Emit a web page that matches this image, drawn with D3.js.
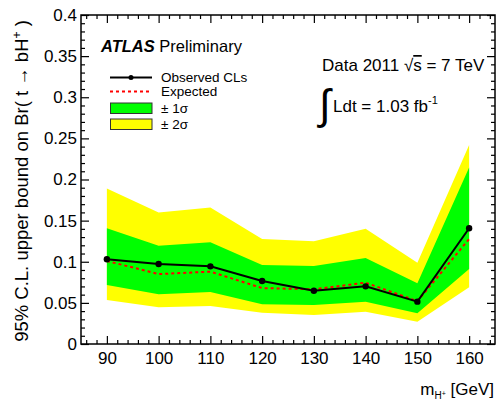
<!DOCTYPE html>
<html>
<head>
<meta charset="utf-8">
<script src="https://cdn.jsdelivr.net/npm/d3@7"></script>
<style>
  body { margin: 0; background: #fff; }
  text { font-family: "Liberation Sans", Arial, sans-serif; fill: #000; }
</style>
</head>
<body>
<svg id="chart"></svg>
<script>
// Charged Higgs mass points (GeV)
const masses = [90, 100, 110, 120, 130, 140, 150, 160];
// 95% CL upper limits on Br(t -> bH+)
const observed = [0.103, 0.0973, 0.0944, 0.0766, 0.0648, 0.0701, 0.0515, 0.1407];
const expected = [0.101, 0.085, 0.088, 0.068, 0.0665, 0.0746, 0.052, 0.1277];
const sigma1Lo = [0.0717, 0.0604, 0.0632, 0.0483, 0.0474, 0.0514, 0.0373, 0.0912];
const sigma1Hi = [0.1407, 0.1196, 0.1236, 0.096, 0.0948, 0.1046, 0.0738, 0.2145];
const sigma2Lo = [0.0535, 0.0446, 0.0462, 0.038, 0.0353, 0.0393, 0.0271, 0.069];
const sigma2Hi = [0.189, 0.160, 0.166, 0.1277, 0.125, 0.140, 0.0989, 0.242];

const xTicks = [90, 100, 110, 120, 130, 140, 150, 160];
const yTicks = [0, 0.05, 0.1, 0.15, 0.2, 0.25, 0.3, 0.35, 0.4];

const W = 500, H = 401;
const margin = {top: 15, right: 5, bottom: 57, left: 81};
const width = W - margin.left - margin.right;
const height = H - margin.top - margin.bottom;

const svg = d3.select("#chart")
  .attr("width", W)
  .attr("height", H);

const g = svg.append("g")
  .attr("transform", `translate(${margin.left}, ${margin.top})`);

const x = d3.scaleLinear().domain([85, 165]).range([0, width]);
const y = d3.scaleLinear().domain([0, 0.4]).range([height, 0]);

const pts = masses.map((m, i) => ({
  m, obs: observed[i], exp: expected[i],
  lo1: sigma1Lo[i], hi1: sigma1Hi[i], lo2: sigma2Lo[i], hi2: sigma2Hi[i]
}));

// bands
const band = (lo, hi) => d3.area()
  .x((d) => x(d.m))
  .y0((d) => y(d[lo]))
  .y1((d) => y(d[hi]));

g.append("path").datum(pts).attr("d", band("lo2", "hi2")).attr("fill", "#ffff00");
g.append("path").datum(pts).attr("d", band("lo1", "hi1")).attr("fill", "#00ff00");

// expected
g.append("path").datum(pts)
  .attr("d", d3.line().x((d) => x(d.m)).y((d) => y(d.exp)))
  .attr("fill", "none")
  .attr("stroke", "#ff0000")
  .attr("stroke-width", 2)
  .attr("stroke-dasharray", "3,3");

// observed
g.append("path").datum(pts)
  .attr("d", d3.line().x((d) => x(d.m)).y((d) => y(d.obs)))
  .attr("fill", "none")
  .attr("stroke", "#000")
  .attr("stroke-width", 2);

g.selectAll("circle.obs").data(pts).enter().append("circle")
  .attr("class", "obs")
  .attr("cx", (d) => x(d.m))
  .attr("cy", (d) => y(d.obs))
  .attr("r", 3.2)
  .attr("fill", "#000");

// ROOT-style axes: ticks pointing inwards on all four sides
const xMinor = d3.range(86, 165, 2).filter((v) => v % 10 !== 0);
const yMinor = d3.range(0, 0.401, 0.01).filter((v, i) => i % 5 !== 0);

function styleAxis(sel) {
  sel.select(".domain").remove();
  sel.selectAll("line").attr("stroke", "#000").attr("stroke-width", 1.2);
  sel.selectAll("text").attr("font-size", "17px").attr("font-family", "Liberation Sans, Arial, sans-serif");
}

g.append("g").attr("transform", `translate(0, ${height})`)
  .call(d3.axisBottom(x).tickValues(xTicks).tickSize(-8).tickPadding(10).tickFormat(d3.format("d")))
  .call(styleAxis)
  .call((s) => s.selectAll("text").attr("dy", "0.71em").attr("y", 8));
g.append("g").attr("transform", `translate(0, ${height})`)
  .call(d3.axisBottom(x).tickValues(xMinor).tickSize(-4).tickFormat(""))
  .call(styleAxis);
g.append("g")
  .call(d3.axisTop(x).tickValues(xTicks).tickSize(-8).tickFormat(""))
  .call(styleAxis);
g.append("g")
  .call(d3.axisTop(x).tickValues(xMinor).tickSize(-4).tickFormat(""))
  .call(styleAxis);

g.append("g")
  .call(d3.axisLeft(y).tickValues(yTicks).tickSize(-8).tickPadding(4).tickFormat((d) => d3.format("")(+d.toFixed(2))))
  .call(styleAxis);
g.append("g")
  .call(d3.axisLeft(y).tickValues(yMinor).tickSize(-4).tickFormat(""))
  .call(styleAxis);
g.append("g").attr("transform", `translate(${width}, 0)`)
  .call(d3.axisRight(y).tickValues(yTicks).tickSize(-8).tickFormat(""))
  .call(styleAxis);
g.append("g").attr("transform", `translate(${width}, 0)`)
  .call(d3.axisRight(y).tickValues(yMinor).tickSize(-4).tickFormat(""))
  .call(styleAxis);

// frame
g.append("rect")
  .attr("width", width)
  .attr("height", height)
  .attr("fill", "none")
  .attr("stroke", "#000")
  .attr("stroke-width", 1.5);

// axis titles
const yTitle = svg.append("text")
  .attr("transform", `translate(28, 181) rotate(-90)`)
  .attr("text-anchor", "middle")
  .attr("font-size", "18.5px");
yTitle.append("tspan").text("95% C.L. upper bound on Br( t \u2192 bH");
yTitle.append("tspan").attr("font-size", "12px").attr("dy", "-7").text("+");
yTitle.append("tspan").attr("dy", "7").text(" )");

const xTitle = svg.append("text")
  .attr("x", 494)
  .attr("y", 395)
  .attr("text-anchor", "end")
  .attr("font-size", "17px");
xTitle.append("tspan").text("m");
xTitle.append("tspan").attr("font-size", "10px").attr("dy", "4").text("H");
xTitle.append("tspan").attr("font-size", "7px").attr("dy", "-3").text("+");
xTitle.append("tspan").attr("dy", "-1").text(" [GeV]");

// ATLAS label
const atlas = svg.append("text").attr("x", 101).attr("y", 52).attr("font-size", "16.5px");
atlas.append("tspan").attr("font-weight", "bold").attr("font-style", "italic").text("ATLAS");
atlas.append("tspan").text(" Preliminary");

// luminosity labels
const data2011 = svg.append("text").attr("x", 322).attr("y", 71).attr("font-size", "17px");
data2011.append("tspan").text("Data 2011 \u221A");
data2011.append("tspan").attr("text-decoration", "overline").text("s");
data2011.append("tspan").text(" = 7 TeV");

svg.append("text").attr("x", 319).attr("y", 119).attr("font-size", "42px")
  .attr("font-family", "DejaVu Serif, serif").text("\u222B");
const lumi = svg.append("text").attr("x", 333).attr("y", 112).attr("font-size", "17px");
lumi.append("tspan").text("Ldt = 1.03 fb");
lumi.append("tspan").attr("font-size", "11px").attr("dy", "-8").text("-1");

// legend
const legend = svg.append("g").attr("transform", "translate(110, 0)");
const legendItems = ["Observed CLs", "Expected", "\u00B1 1\u03C3", "\u00B1 2\u03C3"];
const legendY = [77.5, 91.5, 108, 124];

legend.append("line").attr("x1", 0).attr("x2", 42).attr("y1", legendY[0]).attr("y2", legendY[0])
  .attr("stroke", "#000").attr("stroke-width", 2);
legend.append("circle").attr("cx", 21).attr("cy", legendY[0]).attr("r", 2.5).attr("fill", "#000");
legend.append("line").attr("x1", 0).attr("x2", 42).attr("y1", legendY[1]).attr("y2", legendY[1])
  .attr("stroke", "#ff0000").attr("stroke-width", 2).attr("stroke-dasharray", "3,3");
legend.append("rect").attr("x", 0.5).attr("y", legendY[2] - 5).attr("width", 41.5).attr("height", 10.5)
  .attr("fill", "#00ff00").attr("stroke", "#333").attr("stroke-width", 1);
legend.append("rect").attr("x", 0.5).attr("y", legendY[3] - 5).attr("width", 41.5).attr("height", 10.5)
  .attr("fill", "#ffff00").attr("stroke", "#333").attr("stroke-width", 1);

legend.selectAll("text.leg").data(legendItems).enter().append("text")
  .attr("class", "leg")
  .attr("x", 51)
  .attr("y", (d, i) => legendY[i] + 4.5)
  .attr("font-size", "13.5px")
  .text((d) => d);
</script>
</body>
</html>
